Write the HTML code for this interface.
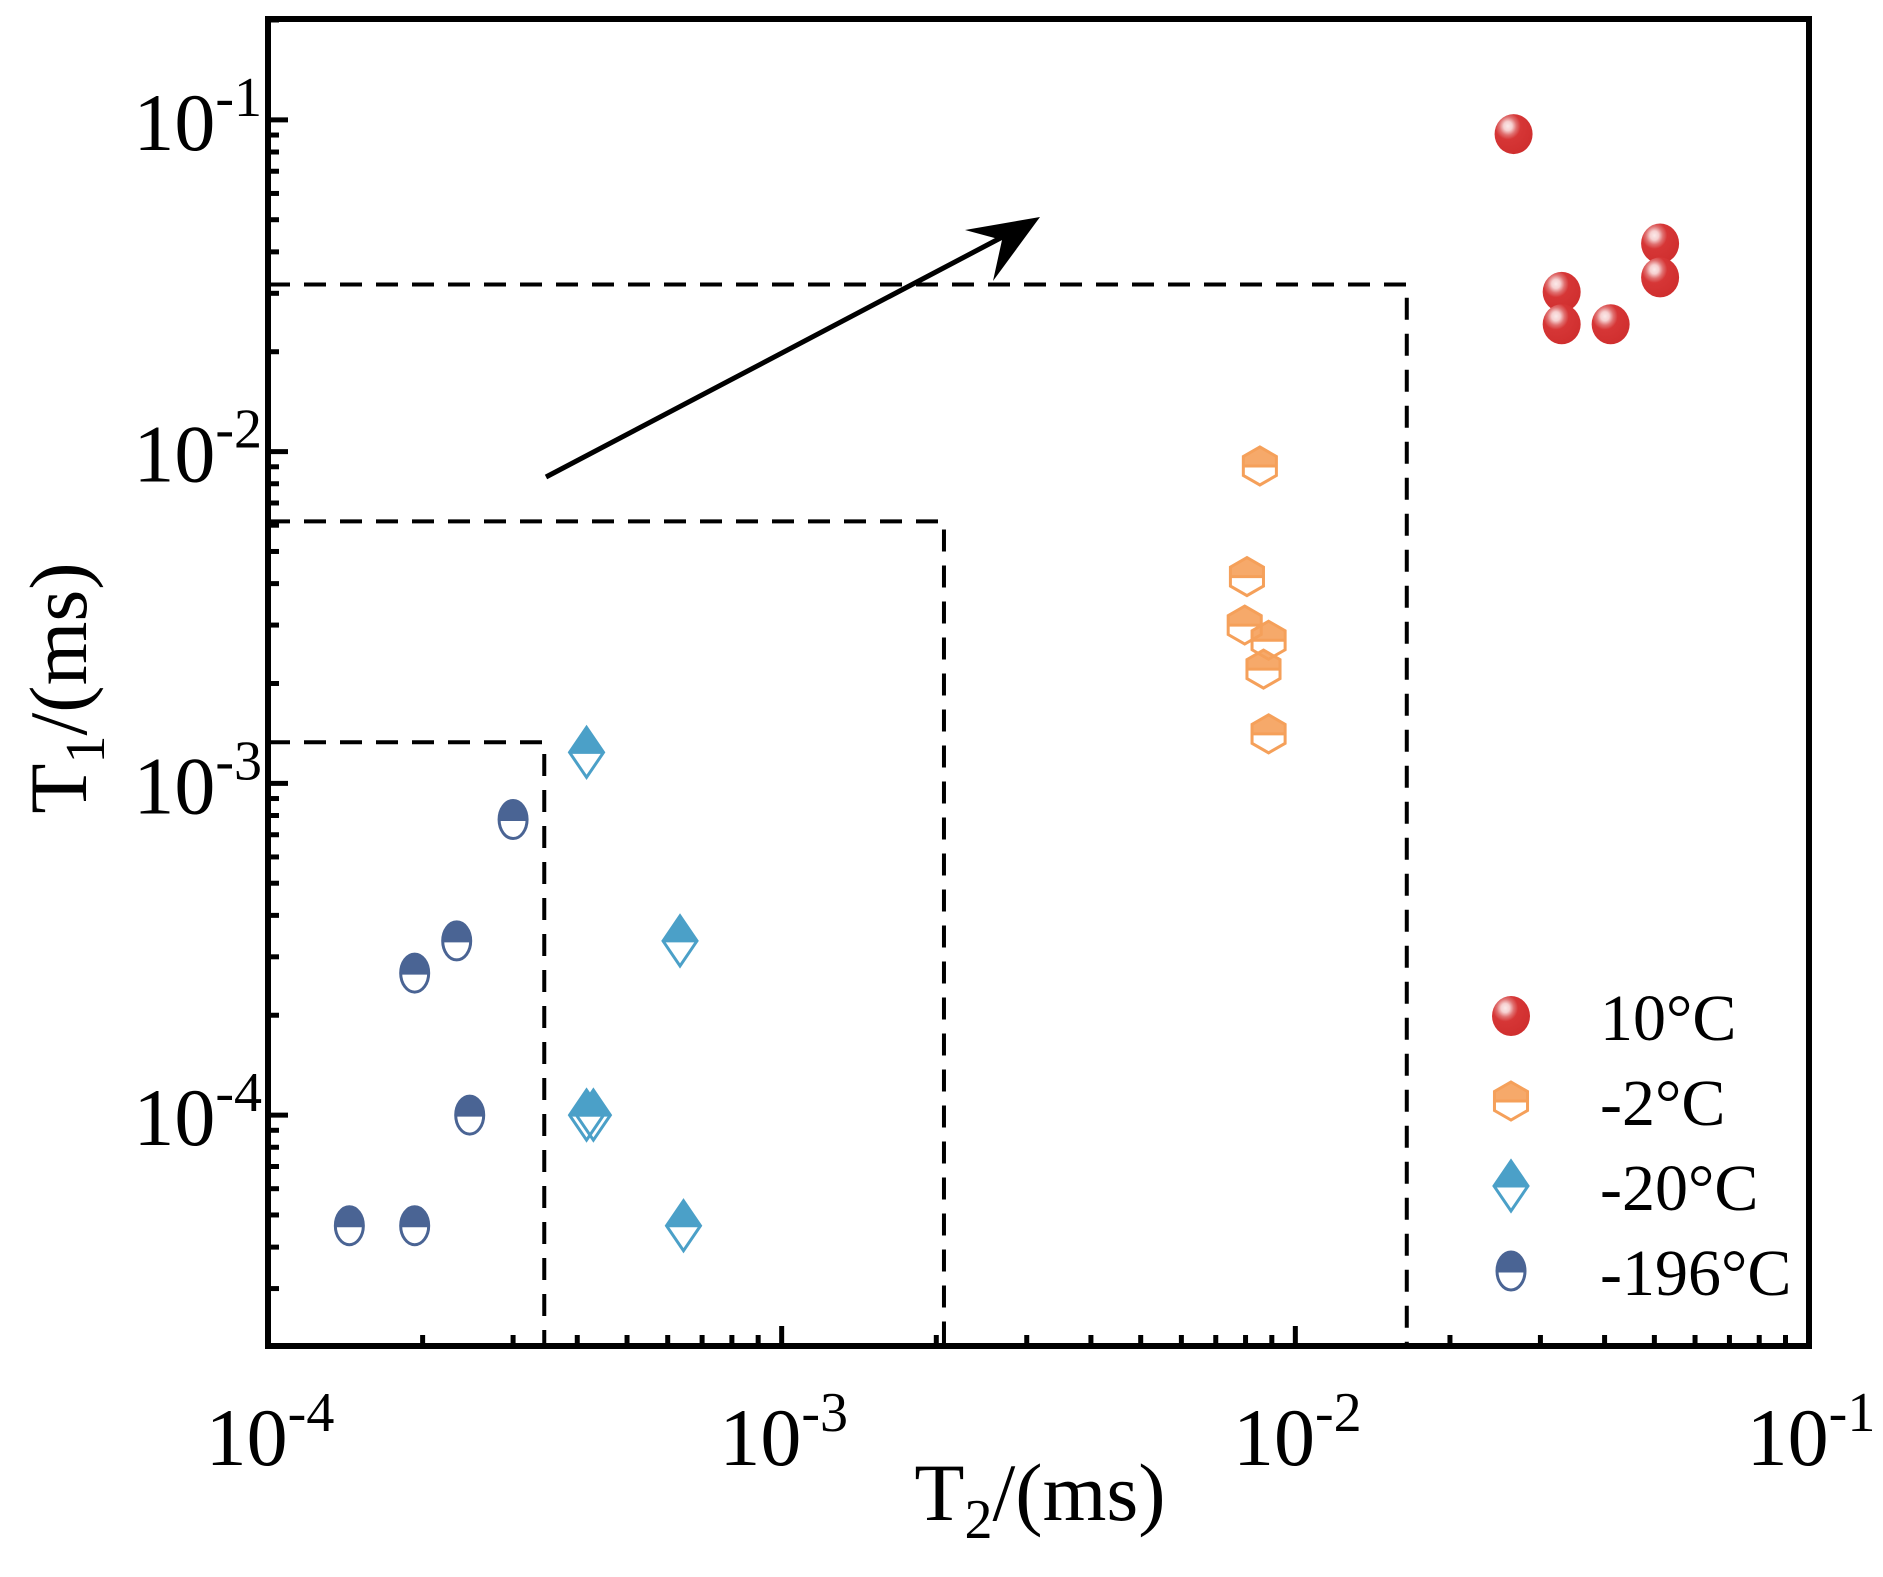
<!DOCTYPE html>
<html><head><meta charset="utf-8"><style>
html,body{margin:0;padding:0;background:#fff;}
svg{display:block;font-family:"Liberation Serif",serif;}
</style></head><body>
<svg id="chart" width="1883" height="1577" viewBox="0 0 1883 1577" xmlns="http://www.w3.org/2000/svg">
<defs>
<radialGradient id="redBall" cx="0.35" cy="0.3" r="0.75">
<stop offset="0" stop-color="#fbeaea"/><stop offset="0.15" stop-color="#f6d0d0"/><stop offset="0.3" stop-color="#e07070"/><stop offset="0.45" stop-color="#d63636"/><stop offset="1" stop-color="#cf2e2e"/>
</radialGradient>
</defs>
<g id="plot"></g>
</svg>
<script>
const xTickLabels = ['-4','-3','-2','-1'];
const yTickLabels = ['-4','-3','-2','-1'];
const red_x = [0.0266,0.033,0.033,0.0411,0.0513,0.0513];
const red_y = [0.0906,0.0303,0.0242,0.0242,0.0424,0.0335];
const orange_x = [0.00853,0.00805,0.00797,0.00887,0.00867,0.00887];
const orange_y = [0.00905,0.0042,0.0030,0.0027,0.00221,0.00141];
const blue_x = [0.000417,0.000634,0.000417,0.00043,0.000644];
const blue_y = [0.00124,0.000335,0.0001,0.0001,0.0000464];
const navy_x = [0.000144,0.000193,0.000247,0.000193,0.000233,0.0003];
const navy_y = [0.0000464,0.0000464,0.0001,0.000268,0.000335,0.000778];
const box_x = [0.000345,0.00207,0.01648];
const box_y = [0.00133,0.00616,0.0319];
const legendLabels = ['10°C','-2°C','-20°C','-196°C'];

const L=268,R=1809,T=19,B=1346;
const xMin=-4,xMax=-1,yMin=-4.696,yMax=-0.696;
const X=v=>L+(Math.log10(v)-xMin)/(xMax-xMin)*(R-L);
const Y=v=>B-(Math.log10(v)-yMin)/(yMax-yMin)*(B-T);
const NS='http://www.w3.org/2000/svg';
const g=document.getElementById('plot');
function mk(tag,attrs,parent){const e=document.createElementNS(NS,tag);for(const k in attrs)e.setAttribute(k,attrs[k]);(parent||g).appendChild(e);return e;}

box_x.forEach((bx,i)=>{
  const p=mk('path',{d:`M${L},${Y(box_y[i])}H${X(bx)}V${B}`,fill:'none',stroke:'#000','stroke-width':4,'stroke-dasharray':'22,14'});
  
  
});
const arr=mk('g',{});


mk('line',{x1:546,y1:477,x2:1010,y2:233,stroke:'#000','stroke-width':5},arr);
mk('path',{d:'M1040,217 L965,230 L1002,240 L993,281 Z',fill:'#000'},arr);

const fr=mk('rect',{x:L,y:T,width:R-L,height:B-T,fill:'none',stroke:'#000','stroke-width':6});



for(let d=-4;d<=-1;d++){
  for(let m=1;m<10;m++){
    const v=m*Math.pow(10,d);const lv=Math.log10(v);
    const len=m===1?20:11;
    if(lv>=xMin-1e-9&&lv<=xMax+1e-9){const x=X(v);
      const t=mk('line',{x1:x,y1:B,x2:x,y2:B-len,stroke:'#000','stroke-width':5});
      
      }
  }
}
for(let d=-5;d<=-1;d++){
  for(let m=1;m<10;m++){
    const v=m*Math.pow(10,d);const lv=Math.log10(v);
    const len=m===1?20:11;
    if(lv>=yMin&&lv<=yMax){const y=Y(v);
      const t=mk('line',{x1:L,y1:y,x2:L+len,y2:y,stroke:'#000','stroke-width':5});
      
      }
  }
}
function powLabel(x,y,exp,anchor,name){
  const t=mk('text',{x:x,y:y,'font-size':82,'text-anchor':anchor,fill:'#000'});
  
  
  const a=document.createElementNS(NS,'tspan');a.textContent='10';t.appendChild(a);
  const b=document.createElementNS(NS,'tspan');b.setAttribute('font-size',56);b.setAttribute('dy',-34);b.textContent=exp;t.appendChild(b);
}
xTickLabels.forEach((s,i)=>powLabel(X(Math.pow(10,-4+i))+2,1465,s,'middle','x-tick-label'));
yTickLabels.forEach((s,i)=>powLabel(262,Y(Math.pow(10,-4+i))+30,s,'end','y-tick-label'));

const xt=mk('text',{x:1040,y:1520,'font-size':82,'text-anchor':'middle'});


xt.innerHTML='T<tspan font-size="56" dy="18">2</tspan><tspan dy="-18">/(ms)</tspan>';
const yt=mk('text',{x:0,y:0,'font-size':82,'text-anchor':'middle',transform:'translate(86,688) rotate(-90)'});


yt.innerHTML='T<tspan font-size="56" dy="18">1</tspan><tspan dy="-18">/(ms)</tspan>';

function redM(cx,cy,p){mk('ellipse',{cx,cy,rx:19,ry:20,fill:'url(#redBall)'},p);}
function hexM(cx,cy,p){const r=19,c='#f5a05a',w=r*0.87;
  mk('path',{d:`M${cx-w},${cy}V${cy-r/2}L${cx},${cy-r}L${cx+w},${cy-r/2}V${cy}Z`,fill:c,'fill-opacity':0.9},p);
  mk('path',{d:`M${cx},${cy-r}L${cx+w},${cy-r/2}V${cy+r/2}L${cx},${cy+r}L${cx-w},${cy+r/2}V${cy-r/2}Z`,fill:'none',stroke:c,'stroke-width':3},p);
  mk('line',{x1:cx-w,y1:cy,x2:cx+w,y2:cy,stroke:c,'stroke-width':3},p);}
function diaM(cx,cy,p){const c='#4ba0c8';
  mk('path',{d:`M${cx-17},${cy}L${cx},${cy-25}L${cx+17},${cy}Z`,fill:c},p);
  mk('path',{d:`M${cx-17},${cy}L${cx},${cy-25}L${cx+17},${cy}L${cx},${cy+25}Z`,fill:'none',stroke:c,'stroke-width':3},p);
  mk('line',{x1:cx-17,y1:cy,x2:cx+17,y2:cy,stroke:c,'stroke-width':3},p);}
function semiM(cx,cy,p){const c='#4a6494';
  mk('path',{d:`M${cx-14},${cy}A14,19 0 0 1 ${cx+14},${cy}Z`,fill:c},p);
  mk('ellipse',{cx,cy,rx:14,ry:19,fill:'none',stroke:c,'stroke-width':3},p);
  mk('line',{x1:cx-14,y1:cy,x2:cx+14,y2:cy,stroke:c,'stroke-width':3},p);}

const series=[[navy_x,navy_y,semiM,'navy-196c-point'],[blue_x,blue_y,diaM,'blue-20c-point'],[orange_x,orange_y,hexM,'orange-2c-point'],[red_x,red_y,redM,'red-10c-point']];
series.forEach(s=>{s[0].forEach((xv,i)=>{
  const p=mk('g',{});
  
  
  s[2](X(xv),Y(s[1][i]),p);
});});

const lg=mk('g',{});


const drawers=[redM,hexM,diaM,semiM];
legendLabels.forEach((s,i)=>{
  const e=mk('g',{},lg);
  
  
  const y=1016+i*85;
  drawers[i](1511,y,e);
  const t=mk('text',{x:1600,y:y+24,'font-size':66},e);
  t.textContent=s;
});
</script>
</body></html>
